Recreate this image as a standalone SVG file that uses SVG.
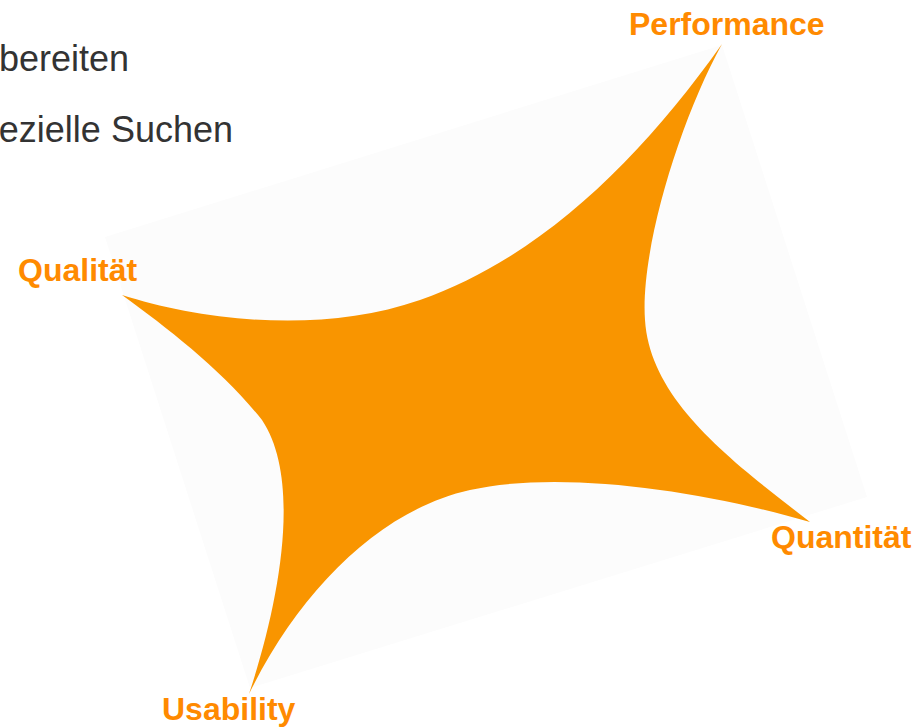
<svg xmlns="http://www.w3.org/2000/svg" width="915" height="727" viewBox="0 0 915 727">
  <style>
    .body { font-family: "Liberation Sans", Arial, sans-serif; font-size: 36px; fill: #333333; }
    .label { font-family: "Liberation Sans", Arial, sans-serif; font-size: 32px; font-weight: bold; fill: #ff8a00; }
  </style>
  <rect x="0" y="0" width="915" height="727" fill="#ffffff"/>
  <g id="text-left">
    <text class="body" x="129" y="71" text-anchor="end">bereiten</text>
    <text class="body" x="233" y="142" text-anchor="end">ezielle Suchen</text>
  </g>
  <g id="backdrop">
    <polygon points="105,237 722,45 867,497 250,688" fill="#fcfcfc"/>
  </g>
  <g id="star">
    <path d="M122,295 C200,320 320,335 420,300 C540,258 640,160 722,44 C680,120 640,250 645,320 C650,400 730,460 810,522 C700,490 560,470 470,490 C380,510 300,590 249,694 C280,600 302,480 262,420 C222,370 170,330 122,295 Z" fill="#f99500"/>
  </g>
  <g id="node-performance"><text class="label" x="629" y="35">Performance</text></g>
  <g id="node-qualitaet"><text class="label" x="18" y="281">Qualität</text></g>
  <g id="node-quantitaet"><text class="label" x="771" y="548">Quantität</text></g>
  <g id="node-usability"><text class="label" x="162" y="720">Usability</text></g>
  <g id="connectors"></g>
</svg>
